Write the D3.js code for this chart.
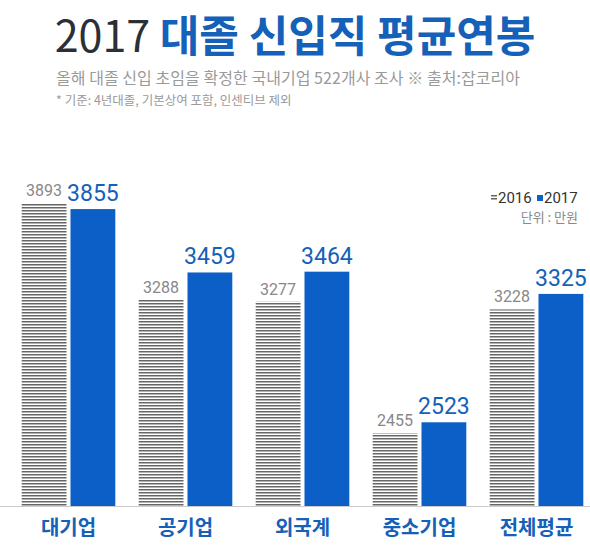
<!DOCTYPE html><html><head><meta charset="utf-8"><script src="https://cdn.jsdelivr.net/npm/d3@7"></script>
<style>body{margin:0;background:#fff}</style></head><body><svg id="c" width="590" height="555"></svg>
<script>
const categories=["대기업","공기업","외국계","중소기업","전체평균"];
const v2016=[3893,3288,3277,2455,3228];
const v2017=[3855,3459,3464,2523,3325];
const svg=d3.select("#c");
const F="'Noto Sans CJK KR','Noto Sans',sans-serif";
const defs=svg.append("defs");
const p=defs.append("pattern").attr("id","st").attr("width",4).attr("height",3).attr("patternUnits","userSpaceOnUse");
p.append("rect").attr("width",4).attr("height",3).attr("fill","#fff");
p.append("rect").attr("width",4).attr("height",1.5).attr("fill","#666");
svg.append("text").attr("x",295).attr("y",52).attr("text-anchor","middle").attr("font-family",F).attr("font-size",43)
 .call(t=>{t.append("tspan").attr("fill","#2b2f36").attr("font-weight",400).text("2017 ");t.append("tspan").attr("fill","#1560b8").attr("font-weight",700).text("대졸 신입직 평균연봉");});
svg.append("text").attr("x",56).attr("y",84).attr("textLength",464).attr("font-family",F).attr("font-size",16).attr("fill","#9a9a9a").text("올해 대졸 신입 초임을 확정한 국내기업 522개사 조사  ※ 출처:잡코리아");
svg.append("text").attr("x",56).attr("y",105).attr("font-family",F).attr("font-size",12.5).attr("fill","#9a9a9a").text("* 기준: 4년대졸, 기본상여 포함, 인센티브 제외");
const x=d3.scaleBand().domain(categories).range([10,595]).paddingInner(0.2).paddingOuter(0.1);
const y=d3.scaleLinear().domain([2000,3893]).range([506,203]);
const bw=x.bandwidth()/2-2;
const g=svg.append("g").selectAll("g").data(categories).join("g").attr("transform",d=>`translate(${x(d)},0)`);
g.append("rect").attr("x",0).attr("width",bw).attr("y",(d,i)=>y(v2016[i])).attr("height",(d,i)=>506-y(v2016[i])).attr("fill","url(#st)");
g.append("rect").attr("x",bw+4).attr("width",bw).attr("y",(d,i)=>y(v2017[i])).attr("height",(d,i)=>506-y(v2017[i])).attr("fill","#0b5fc6");
g.append("text").attr("x",bw/2).attr("y",(d,i)=>y(v2016[i])-7).attr("text-anchor","middle").attr("font-family","Roboto,sans-serif").attr("font-size",16).attr("fill","#888").text((d,i)=>v2016[i]);
g.append("text").attr("x",bw*1.5+4).attr("y",(d,i)=>y(v2017[i])-8).attr("text-anchor","middle").attr("font-family","Roboto,sans-serif").attr("font-size",23).attr("fill","#1560b8").text((d,i)=>v2017[i]);
g.append("text").attr("x",bw+2).attr("y",535).attr("text-anchor","middle").attr("font-family",F).attr("font-size",20).attr("font-weight",700).attr("fill","#1560b8").text(d=>d);
svg.append("line").attr("x1",0).attr("x2",590).attr("y1",506.5).attr("y2",506.5).attr("stroke","#ccc");
const L=svg.append("g").attr("font-family","Roboto,sans-serif").attr("font-size",15).attr("fill","#333");
L.append("rect").attr("x",491).attr("y",195).attr("width",6).attr("height",6).attr("fill","url(#st)");
L.append("text").attr("x",498).attr("y",203).text("2016");
L.append("rect").attr("x",537).attr("y",195).attr("width",6).attr("height",6).attr("fill","#0b5fc6");
L.append("text").attr("x",544).attr("y",203).text("2017");
svg.append("text").attr("x",578).attr("y",222).attr("text-anchor","end").attr("font-family",F).attr("font-size",13).attr("fill","#888").text("단위 : 만원");
</script></body></html>
